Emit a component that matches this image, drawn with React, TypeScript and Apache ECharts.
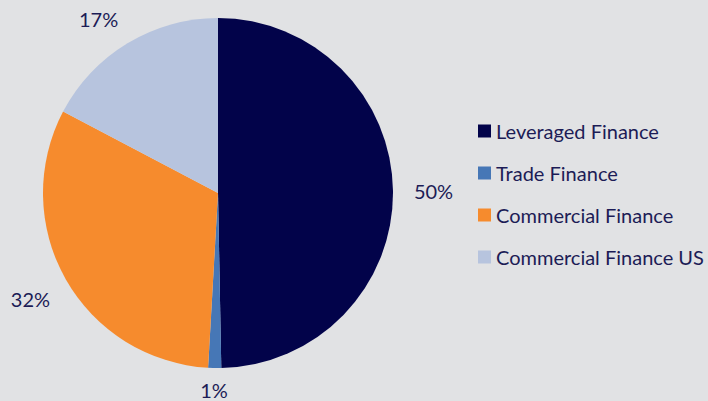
import React, { useEffect, useRef } from "react";
import * as echarts from "echarts";

const categories = ["Leveraged Finance", "Trade Finance", "Commercial Finance", "Commercial Finance US"];
const values = [49.7, 1.2, 31.8, 17.3];
const colors = ["#02034a", "#4677b6", "#f68b2d", "#b7c4de"];

const TEXT = "#1c1c56";
const FONT = "Lato, 'Noto Sans', sans-serif";

export default function App() {
  const ref = useRef<HTMLDivElement>(null);
  useEffect(() => {
    if (!ref.current) return;
    const chart = echarts.init(ref.current, undefined, { renderer: "svg" });
    const data = categories.map((name, i) => ({ name, value: values[i], itemStyle: { color: colors[i] } }));
    chart.setOption({
      animation: false,
      backgroundColor: "#e1e2e4",
      legend: {
        orient: "vertical",
        left: 473,
        top: 116,
        icon: "rect",
        itemWidth: 13,
        itemHeight: 13,
        itemGap: 22,
        data: categories,
        textStyle: { fontSize: 20, color: TEXT, fontFamily: FONT },
      },
      series: [
        {
          type: "pie",
          center: [218, 193],
          radius: 175,
          startAngle: 90,
          clockwise: true,
          data,
          label: { show: false },
          labelLine: { show: false },
          itemStyle: { borderWidth: 0 },
          emphasis: { disabled: true },
        },
        {
          type: "pie",
          center: [218, 193],
          radius: [175, 250],
          startAngle: 90,
          clockwise: true,
          silent: true,
          data: categories.map((name, i) => ({ name, value: values[i] })),
          itemStyle: { color: "rgba(0,0,0,0)", borderWidth: 0 },
          label: {
            show: true,
            position: "inside",
            fontSize: 20,
            color: TEXT,
            fontFamily: FONT,
            formatter: (p: any) => Math.round(p.value) + "%",
          },
          labelLine: { show: false },
          labelLayout: (p: any) =>
            p.dataIndex === 1 ? { dy: -18 } : p.dataIndex === 3 ? { dx: -8, dy: 10 } : {},
          emphasis: { disabled: true },
        },
      ],
    });
    return () => chart.dispose();
  }, []);
  return <div ref={ref} style={{ position: "fixed", left: 0, top: 0, width: 708, height: 401 }} />;
}
